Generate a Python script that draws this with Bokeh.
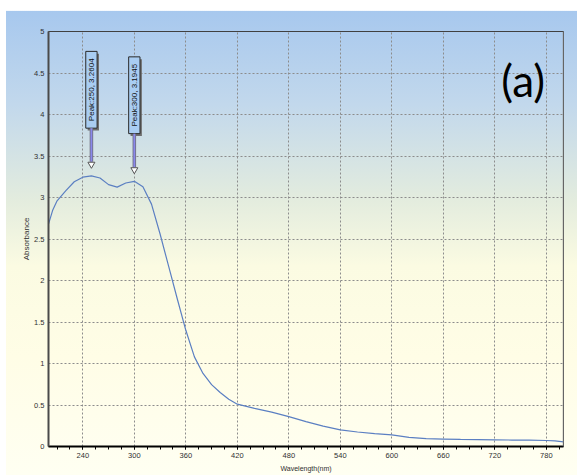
import math
from bokeh.plotting import figure
from bokeh.models import Range1d, SingleIntervalTicker, Label, Span
from bokeh.core.properties import value
from bokeh.embed import file_html
from bokeh.resources import INLINE

# ---- data ----
wavelength = [200, 205, 210, 220, 230, 240, 250, 260, 270, 280, 290, 300, 310, 320,
              330, 340, 350, 360, 370, 380, 390, 400, 410, 420, 440, 460, 480, 500,
              520, 540, 560, 580, 600, 620, 640, 660, 680, 700, 720, 740, 760, 780,
              790, 800]
absorbance = [2.68, 2.85, 2.96, 3.08, 3.19, 3.245, 3.26, 3.235, 3.155, 3.125, 3.175,
              3.195, 3.13, 2.92, 2.56, 2.17, 1.78, 1.40, 1.08, 0.88, 0.745, 0.65,
              0.57, 0.51, 0.46, 0.415, 0.36, 0.30, 0.245, 0.20, 0.175, 0.155, 0.14,
              0.11, 0.095, 0.09, 0.085, 0.082, 0.08, 0.078, 0.077, 0.072, 0.068, 0.055]

peak_x = [250, 300]
peak_y = [3.2604, 3.1945]
peak_labels = ["Peak:250, 3.2604", "Peak:300, 3.1945"]

x_ticks = [240, 300, 360, 420, 480, 540, 600, 660, 720, 780]
y_ticks = [0, 0.5, 1, 1.5, 2, 2.5, 3, 3.5, 4, 4.5, 5]
y_tick_labels = ["0", "0.5", "1", "1.5", "2", "2.5", "3", "3.5", "4", "4.5", "5"]

# ---- figure ----
bg = ("linear-gradient(to right, #ffffff 0px, #ffffff 6px, rgba(255,255,255,0) 6px), "
      "linear-gradient(to bottom, #ffffff 0%, #ffffff 2.2%, "
      "#a7c8ee 2.3%, #c2d8ec 22%, "
      "#e3ecde 42%, #fbfbe2 56%, #fffde6 75%, #fffff2 100%)")
p = figure(width=577, height=475, output_backend="svg", toolbar_location=None,
           x_range=Range1d(200, 800), y_range=Range1d(0, 5),
           min_border_left=48, min_border_right=14, min_border_top=31,
           min_border_bottom=29,
           background_fill_color=None, border_fill_color=None,
           styles={"background": bg})
p.outline_line_color = "#404040"
p.outline_line_width = 1

# axes
xa = p.xaxis[0]
xa.ticker = SingleIntervalTicker(interval=60, num_minor_ticks=4)
xa.axis_line_color = "black"
xa.axis_line_width = 2
xa.major_tick_in = 0
xa.major_tick_out = 3
xa.minor_tick_in = 0
xa.minor_tick_out = 3
xa.major_tick_line_color = "black"
xa.minor_tick_line_color = "black"
xa.major_label_text_font = "Liberation Sans"
xa.major_label_text_font_size = "7.5px"
xa.major_label_text_color = "#303030"
xa.major_label_standoff = 3
xa.axis_label = "Wavelength(nm)"
xa.axis_label_text_font = "Liberation Sans"
xa.axis_label_text_font_size = "7px"
xa.axis_label_text_font_style = "normal"
xa.axis_label_text_color = "#303030"
xa.axis_label_standoff = 4

ya = p.yaxis[0]
ya.ticker = SingleIntervalTicker(interval=0.5, num_minor_ticks=0)
ya.major_label_overrides = {t: l for t, l in zip(y_ticks, y_tick_labels)}
ya.axis_line_color = "#4a4a4a"
ya.axis_line_width = 2
ya.major_tick_in = 0
ya.major_tick_out = 0
ya.minor_tick_line_color = None
ya.major_label_text_font = "Liberation Sans"
ya.major_label_text_font_size = "7.5px"
ya.major_label_text_color = "#303030"
ya.major_label_standoff = 4
ya.axis_label = "Absorbance"
ya.axis_label_text_font = "Liberation Sans"
ya.axis_label_text_font_size = "8px"
ya.axis_label_text_font_style = "normal"
ya.axis_label_text_color = "#303030"
ya.axis_label_standoff = 0

for g in (p.xgrid[0], p.ygrid[0]):
    g.grid_line_color = "#8c8c8c"
    g.grid_line_dash = "2 2"
    g.grid_line_width = 1

# right border lighter
p.add_layout(Span(location=800, dimension="height", line_color="#8a8a8a", line_width=1.5))

# curve
p.line(wavelength, absorbance, line_color="#5b7fc2", line_width=1.2)

# peak annotations
box_bottom = [v + 0.575 for v in peak_y]
box_top = [v + 1.5 for v in peak_y]
tip = [v + 0.10 for v in peak_y]
half_w = 6.6

# shadow
p.quad(left=[x - half_w + 2.2 for x in peak_x], right=[x + half_w + 2.2 for x in peak_x],
       bottom=[b - 0.028 for b in box_bottom], top=[t - 0.028 for t in box_top],
       fill_color="#6e6e6e", line_color=None)
# box
p.quad(left=[x - half_w for x in peak_x], right=[x + half_w for x in peak_x],
       bottom=box_bottom, top=box_top,
       fill_color="#a9cdf2", line_color="#2a2a2a", line_width=1)
# shaft
p.segment(x0=peak_x, y0=box_bottom, x1=peak_x, y1=[t + 0.07 for t in tip],
          line_color="#707080", line_width=3.5)
p.segment(x0=peak_x, y0=box_bottom, x1=peak_x, y1=[t + 0.07 for t in tip],
          line_color="#8a88ec", line_width=1.8)
# head
p.scatter(x=peak_x, y=[t + 0.04 for t in tip], marker="inverted_triangle", size=7,
          fill_color="white", line_color="#555555", line_width=1)
# label text
p.text(x=peak_x, y=[(b + t) / 2 for b, t in zip(box_bottom, box_top)], text=peak_labels,
       angle=math.pi / 2, text_align="center", text_baseline="middle",
       text_font_size=value("8px"), text_color="#101010",
       text_font=value("Liberation Sans"))

# (a) label
p.add_layout(Label(x=753, y=4.42, text="(a)", text_align="center", text_baseline="middle",
                   text_font="Lato", text_font_size="44px", text_color="black"))

open("out.html", "w").write(file_html(p, INLINE))
